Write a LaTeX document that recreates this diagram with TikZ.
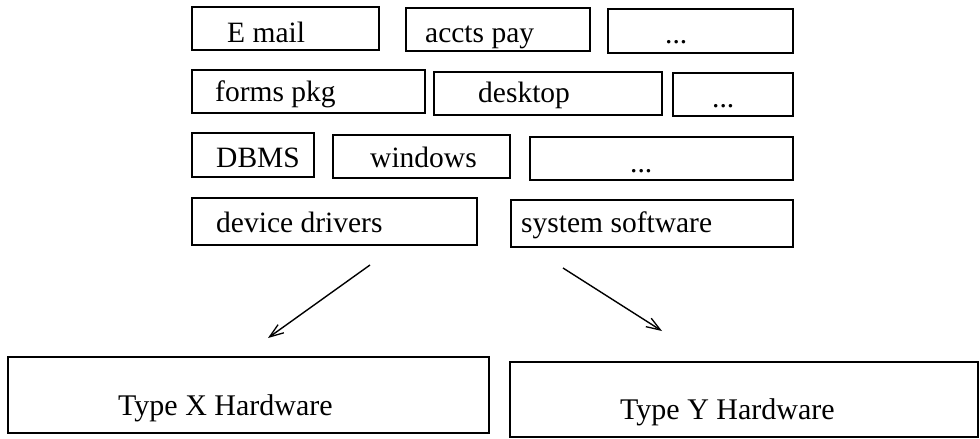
\documentclass[tikz,border=0pt]{standalone}
\usepackage{fontspec}
\setmainfont{Liberation Serif}
\usetikzlibrary{arrows.meta}
\tikzset{
  box/.style={draw, line width=1.1pt, rectangle, inner sep=0pt},
  lbl/.style={inner sep=0pt, anchor=base west, font=\fontsize{29.5}{34}\selectfont},
  hwlbl/.style={inner sep=0pt, anchor=base west, font=\fontsize{30}{36}\selectfont},
  flow/.style={line width=1.4pt, -{Straight Barb[length=14pt,width=10pt,line width=1.3pt]}}
}
% a box given by its corners, in pixel-like units with y pointing down
\newcommand{\layerbox}[5]{%
  \node[box, minimum width={(#4-#2)*1pt}, minimum height={(#5-#3)*1pt}]
    (#1) at ({(#2+#4)/2},{(#3+#5)/2}) {};}
\begin{document}
\begin{tikzpicture}[x=1pt,y=-1pt]
  \useasboundingbox (0,0) rectangle (980,439);

  % application layer
  \layerbox{email}{192}{7}{379}{50}
  \layerbox{accts}{406}{8}{590}{51}
  \layerbox{appmore}{608}{9}{793}{53}
  \node[lbl] (emailT) at (227,42) {E mail};
  \node[lbl] (acctsT) at (425,42) {accts pay};
  \node[lbl] (appmoreT) at (665,43) {...};

  % tools layer
  \layerbox{forms}{192}{70}{425}{113}
  \layerbox{desk}{434}{72}{662}{115}
  \layerbox{toolmore}{673}{73}{793}{116}
  \node[lbl] (formsT) at (215,101) {forms pkg};
  \node[lbl] (deskT) at (478,102) {desktop};
  \node[lbl] (toolmoreT) at (712,107) {...};

  % services layer
  \layerbox{dbms}{192}{133}{314}{177}
  \layerbox{win}{333}{135}{510}{178}
  \layerbox{svcmore}{530}{137}{793}{180}
  \node[lbl] (dbmsT) at (216,167) {DBMS};
  \node[lbl] (winT) at (370,167) {windows};
  \node[lbl] (svcmoreT) at (630,172) {...};

  % system layer
  \layerbox{drivers}{192}{198}{477}{245}
  \layerbox{syssw}{511}{200}{793}{247}
  \node[lbl] (driversT) at (216,232) {device drivers};
  \node[lbl] (sysswT) at (521,232) {system software};

  % hardware
  \layerbox{hwx}{8}{357}{489}{433}
  \layerbox{hwy}{510}{362}{978}{437}
  \node[hwlbl] (hwxT) at (118,415) {Type X Hardware};
  \node[hwlbl] (hwyT) at (620,419) {Type Y Hardware};

  % mapping onto the two hardware types
  \coordinate (ls) at (370,265);
  \coordinate (le) at (268,338);
  \coordinate (rs) at (563,268);
  \coordinate (re) at (662,331);
  \draw[flow] (ls) -- (le);
  \draw[flow] (rs) -- (re);
\end{tikzpicture}
\end{document}
